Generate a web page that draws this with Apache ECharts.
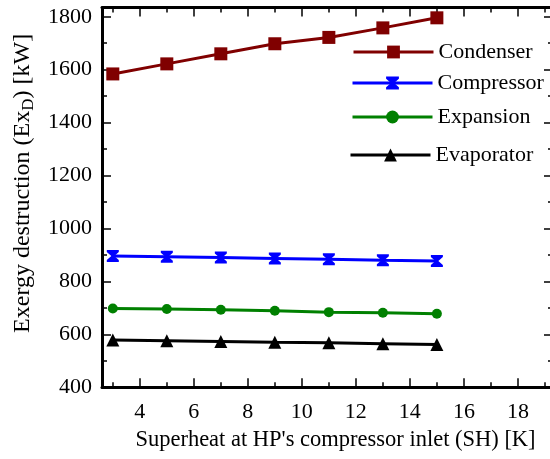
<!DOCTYPE html>
<html>
<head>
<meta charset="utf-8">
<script src="https://cdn.jsdelivr.net/npm/echarts@6/dist/echarts.min.js"></script>
<style>
  html, body { margin: 0; padding: 0; background: #fff; }
  #chart { width: 550px; height: 459px; }
</style>
</head>
<body>
<div id="chart"></div>
<script>
  // superheat values [K]
  const superheat = [3, 5, 7, 9, 11, 13, 15];
  const condenser = [1584, 1622, 1660, 1698, 1722, 1758, 1796];
  const compressor = [896, 893, 890, 887, 884, 880, 877];
  const expansion = [698, 696, 693, 689, 684, 682, 678];
  const evaporator = [579, 576, 573, 570, 568, 565, 562];

  const xMajor = [4, 6, 8, 10, 12, 14, 16, 18];
  const xMinor = [3, 5, 7, 9, 11, 13, 15, 17, 19];
  const yMajor = [400, 600, 800, 1000, 1200, 1400, 1600, 1800];
  const yMinor = [500, 700, 900, 1100, 1300, 1500, 1700];

  const chart = echarts.init(document.getElementById('chart'));
  const font = "'Liberation Serif', 'Times New Roman', serif";
  const hourglass = 'path://M0,0 L12,0 L12,2 L7.5,6 L12,10 L12,12 L0,12 L0,10 L4.5,6 L0,2 Z';

  function pairs(ys) {
    return superheat.map(function (x, i) { return [x, ys[i]]; });
  }

  function tickLabel(margin, values) {
    return {
      show: true, customValues: values, margin: margin,
      formatter: function (v) { return '{t|' + v + '}'; },
      rich: {t: {color: '#000', fontFamily: font, fontSize: 22}}
    };
  }

  function xAx(pos, ticks, len, line, labels) {
    return {
      type: 'value', position: pos, min: 2.6, max: 19.3,
      splitLine: {show: false},
      axisLine: {show: line, onZero: false, lineStyle: {color: '#000', width: 3}},
      axisTick: {show: true, inside: true, length: len, customValues: ticks, lineStyle: {color: '#000', width: 1.5}},
      axisLabel: labels ? tickLabel(14, xMajor) : {show: false}
    };
  }
  function yAx(pos, ticks, len, line, labels) {
    return {
      type: 'value', position: pos, min: 400, max: 1835,
      splitLine: {show: false},
      axisLine: {show: line, onZero: false, lineStyle: {color: '#000', width: 3}},
      axisTick: {show: true, inside: true, length: len, customValues: ticks, lineStyle: {color: '#000', width: 1.5}},
      axisLabel: labels ? tickLabel(10, yMajor) : {show: false}
    };
  }

  const xs = [
    xAx('bottom', xMajor, 9, true, true),
    xAx('bottom', xMinor, 5, false, false),
    xAx('top', xMajor, 9, true, false),
    xAx('top', xMinor, 5, false, false)
  ];
  xs[0].name = "Superheat at HP's compressor inlet (SH) [K]";
  xs[0].nameLocation = 'middle';
  xs[0].nameGap = 40;
  xs[0].nameTextStyle = {color: '#000', fontFamily: font, fontSize: 22.5, padding: [0, 0, 0, 16]};

  const ys = [
    yAx('left', yMajor, 9, true, true),
    yAx('left', yMinor, 5, false, false),
    yAx('right', yMajor, 9, false, false),
    yAx('right', yMinor, 5, false, false)
  ];
  ys[0].name = '{a|Exergy destruction (Ex}{s|D}{a|) [kW]}';
  ys[0].nameLocation = 'middle';
  ys[0].nameGap = 65;
  ys[0].nameTextStyle = {
    color: '#000', fontFamily: font, fontSize: 24,
    padding: [0, 0, 0, 28],
    rich: {
      a: {color: '#000', fontFamily: font, fontSize: 24},
      s: {color: '#000', fontFamily: font, fontSize: 17, padding: [12, 0, 0, 0]}
    }
  };

  function legendAt(name, left, top) {
    return {
      data: [name], left: left, top: top, orient: 'vertical',
      itemWidth: 80, itemHeight: 16, itemGap: 0, padding: 0,
      lineStyle: {width: 3},
      textStyle: {color: '#000', fontFamily: font, fontSize: 22}
    };
  }

  const option = {
    animation: false,
    textStyle: {fontFamily: font, color: '#000'},
    grid: {left: 102, top: 7.5, width: 451, bottom: 71.7, outerBoundsMode: 'none'},
    xAxis: xs,
    yAxis: ys,
    legend: [
      legendAt('Condenser', 352, 41),
      legendAt('Compressor', 351, 72),
      legendAt('Expansion', 351, 106),
      legendAt('Evaporator', 349, 144)
    ],
    series: [
      {name: 'Condenser', type: 'line', data: pairs(condenser), symbol: 'rect', symbolSize: 13,
        itemStyle: {color: '#800000'}, lineStyle: {color: '#800000', width: 3}},
      {name: 'Compressor', type: 'line', data: pairs(compressor), symbol: hourglass, symbolSize: 12,
        itemStyle: {color: '#0000ff'}, lineStyle: {color: '#0000ff', width: 3}},
      {name: 'Expansion', type: 'line', data: pairs(expansion), symbol: 'circle', symbolSize: 10,
        itemStyle: {color: '#008000'}, lineStyle: {color: '#008000', width: 3}},
      {name: 'Evaporator', type: 'line', data: pairs(evaporator), symbol: 'triangle', symbolSize: 13,
        itemStyle: {color: '#000'}, lineStyle: {color: '#000', width: 3}}
    ]
  };
  chart.setOption(option);
</script>
</body>
</html>
